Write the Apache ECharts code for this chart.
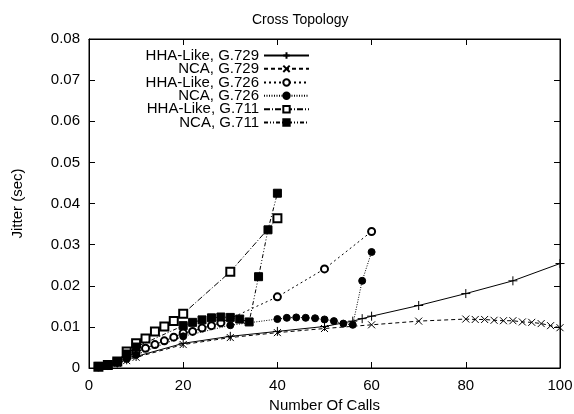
<!DOCTYPE html>
<html>
<head>
<meta charset="utf-8">
<script src="https://cdn.jsdelivr.net/npm/echarts@6/dist/echarts.min.js"></script>
<style>html,body{margin:0;padding:0;background:#fff;}#c{width:574px;height:414px;}</style>
</head>
<body>
<div id="c"></div>
<script>
var titleText = 'Cross Topology';
var xName = 'Number Of Calls';
var yName = 'Jitter (sec)';
var seriesNames = ['HHA-Like, G.729', 'NCA, G.729', 'HHA-Like, G.726', 'NCA, G.726', 'HHA-Like, G.711', 'NCA, G.711'];

var hha729X = [2,4,6,8,10,20,30,40,50,56,58,60,70,80,90,100];
var hha729Y = [0.0003,0.0006,0.0012,0.002,0.0028,0.006,0.0077,0.0089,0.0101,0.0114,0.012,0.0126,0.0152,0.0181,0.0212,0.0254];

var nca729X = [2,4,6,8,10,20,30,40,50,60,70,80,82,84,86,88,90,92,94,96,98,100];
var nca729Y = [0.0003,0.0006,0.0011,0.0018,0.0026,0.0057,0.0074,0.0086,0.0096,0.0105,0.0114,0.0119,0.0118,0.0118,0.0116,0.0115,0.0115,0.0112,0.0111,0.0108,0.0103,0.0098];

var hha726X = [2,4,6,8,10,12,14,16,18,20,22,24,26,28,40,50,60];
var hha726Y = [0.0003,0.0007,0.0014,0.0028,0.0038,0.0048,0.0057,0.0066,0.0075,0.0085,0.0089,0.0097,0.0103,0.011,0.0173,0.0241,0.0332];

var nca726X = [2,4,6,8,10,20,30,40,42,44,46,48,50,52,54,56,58,60];
var nca726Y = [0.0003,0.0006,0.0013,0.0022,0.0032,0.0077,0.0104,0.0119,0.0122,0.0123,0.0122,0.0121,0.0118,0.0114,0.0108,0.0105,0.0212,0.0282];

var hha711X = [2,4,6,8,10,12,14,16,18,20,30,40];
var hha711Y = [0.0003,0.0007,0.0016,0.004,0.006,0.0072,0.0089,0.0101,0.0114,0.0132,0.0234,0.0364];

var nca711X = [2,4,6,8,10,20,22,24,26,28,30,32,34,36,38,40];
var nca711Y = [0.0004,0.0008,0.0015,0.0034,0.0051,0.0103,0.0111,0.0117,0.0122,0.0124,0.0123,0.0119,0.0112,0.0222,0.0336,0.0425];

var xTicks = [0,20,40,60,80,100];
var yTicks = [0,0.01,0.02,0.03,0.04,0.05,0.06,0.07,0.08];

function pairs(xs, ys){ return xs.map(function(x,i){ return [x, ys[i]]; }); }

var FONT = 'Liberation Sans, Arial, sans-serif';
var PLUS = 'path://M0,5L10,5M5,0L5,10';
var CROSS = 'path://M0,0L10,10M10,0L0,10';

var styles = [
  {sym: PLUS, size: 9, dash: 'solid'},
  {sym: CROSS, size: 7, dash: [4,3]},
  {sym: 'emptyCircle', size: 7, dash: [2,3]},
  {sym: 'circle', size: 7, dash: [1,1.5]},
  {sym: 'emptyRect', size: 8, dash: [6,2,1,2]},
  {sym: 'rect', size: 8, dash: [4,2,1,2,1,2]}
];
var dataSets = [
  pairs(hha729X, hha729Y), pairs(nca729X, nca729Y),
  pairs(hha726X, hha726Y), pairs(nca726X, nca726Y),
  pairs(hha711X, hha711Y), pairs(nca711X, nca711Y)
];

var series = seriesNames.map(function(n, i){
  var s = styles[i];
  return {
    name: n, type: 'line', data: dataSets[i],
    symbol: s.sym, symbolSize: s.size, showSymbol: true,
    lineStyle: {color: '#000', width: 1, type: s.dash},
    itemStyle: {color: '#000', borderColor: '#000', borderWidth: 1},
    emphasis: {disabled: true},
    animation: false,
    z: 3 + i
  };
});

var rowTops = [48, 61.3, 75, 88.3, 101.7, 115];
var legends = seriesNames.map(function(n, i){
  return {
    data: [n], orient: 'vertical', align: 'right',
    right: 264, top: rowTops[i], padding: 0,
    itemWidth: 45, itemHeight: 8, itemGap: 0,
    textStyle: {fontFamily: FONT, fontSize: 15, color: '#000'},
    selectedMode: false, inactiveColor: '#000'
  };
});

var chart = echarts.init(document.getElementById('c'), null, {renderer: 'canvas'});
chart.setOption({
  animation: false,
  backgroundColor: '#fff',
  title: {text: titleText, left: 247, top: 8, textStyle: {fontFamily: FONT, fontSize: 14, fontWeight: 'normal', color: '#000'}},
  legend: legends,
  grid: {left: 89, right: 14, top: 39, bottom: 46, containLabel: false, outerBoundsMode: 'none',
         show: true, borderColor: '#000', borderWidth: 1, backgroundColor: 'transparent'},
  xAxis: [
    {type: 'value', min: 0, max: 100, interval: 20, position: 'bottom',
     name: xName, nameLocation: 'middle', nameGap: 30,
     nameTextStyle: {fontFamily: FONT, fontSize: 15, color: '#000'},
     axisLine: {show: true, onZero: false, lineStyle: {color: '#000', width: 1}},
     axisTick: {show: true, inside: true, length: 6, lineStyle: {color: '#000'}},
     axisLabel: {fontFamily: FONT, fontSize: 15, color: '#000', margin: 10,
       formatter: function(v){ return xTicks.indexOf(v) >= 0 ? String(v) : ''; }},
     splitLine: {show: false}},
    {type: 'value', min: 0, max: 100, interval: 20, position: 'top',
     axisLine: {show: true, onZero: false, lineStyle: {color: '#000', width: 1}},
     axisTick: {show: true, inside: true, length: 6, lineStyle: {color: '#000'}},
     axisLabel: {show: false}, splitLine: {show: false}}
  ],
  yAxis: [
    {type: 'value', min: 0, max: 0.08, interval: 0.01, position: 'left',
     name: yName, nameLocation: 'middle', nameGap: 64, nameRotate: 90,
     nameTextStyle: {fontFamily: FONT, fontSize: 15, color: '#000'},
     axisLine: {show: true, onZero: false, lineStyle: {color: '#000', width: 1}},
     axisTick: {show: true, inside: true, length: 6, lineStyle: {color: '#000'}},
     axisLabel: {fontFamily: FONT, fontSize: 15, color: '#000', margin: 9,
       formatter: function(v){ var r = Math.round(v*100)/100; return yTicks.indexOf(r) >= 0 ? String(r) : ''; }},
     splitLine: {show: false}},
    {type: 'value', min: 0, max: 0.08, interval: 0.01, position: 'right',
     axisLine: {show: true, onZero: false, lineStyle: {color: '#000', width: 1}},
     axisTick: {show: true, inside: true, length: 6, lineStyle: {color: '#000'}},
     axisLabel: {show: false}, splitLine: {show: false}}
  ],
  series: series
});
</script>
</body>
</html>
